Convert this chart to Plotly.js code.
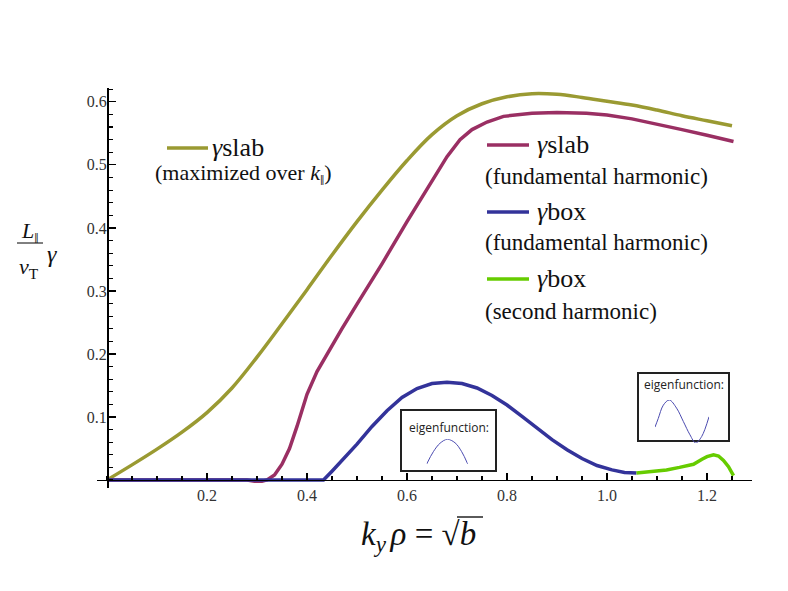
<!DOCTYPE html>
<html>
<head>
<meta charset="utf-8">
<script src="https://cdn.plot.ly/plotly-3.0.1.min.js"></script>
<style>html,body{margin:0;padding:0;background:#fff}</style>
</head>
<body>
<div id="chart" style="width:788px;height:591px"></div>
<script>
// ---- data ----
const slabMaxX = [0, 0.05, 0.1, 0.15, 0.2, 0.25, 0.3, 0.35, 0.4, 0.45, 0.5, 0.55, 0.6, 0.65, 0.7, 0.75, 0.8, 0.85, 0.9, 0.95, 1.0, 1.05, 1.1, 1.15, 1.2, 1.25];
const slabMaxY = [0, 0.024, 0.049, 0.076, 0.107, 0.146, 0.195, 0.248, 0.302, 0.357, 0.41, 0.46, 0.507, 0.548, 0.578, 0.597, 0.608, 0.613, 0.612, 0.607, 0.601, 0.595, 0.587, 0.578, 0.57, 0.562];

const slabFundX = [0, 0.28, 0.295, 0.31, 0.32, 0.335, 0.35, 0.365, 0.38, 0.39, 0.4, 0.42, 0.44, 0.47, 0.5, 0.55, 0.6, 0.625, 0.653, 0.68, 0.706, 0.73, 0.76, 0.793, 0.85, 0.9, 0.959, 1.0, 1.05, 1.093, 1.15, 1.2, 1.253];
const slabFundY = [0, 0, -0.002, -0.002, 0, 0.008, 0.025, 0.05, 0.085, 0.11, 0.136, 0.172, 0.2, 0.24, 0.279, 0.343, 0.41, 0.443, 0.479, 0.513, 0.54, 0.556, 0.568, 0.577, 0.582, 0.583, 0.582, 0.579, 0.573, 0.566, 0.556, 0.547, 0.537];

const boxFundX = [0, 0.433, 0.45, 0.47, 0.5, 0.53, 0.56, 0.59, 0.62, 0.65, 0.68, 0.71, 0.74, 0.77, 0.8, 0.83, 0.86, 0.89, 0.92, 0.95, 0.98, 1.01, 1.035, 1.059];
const boxFundY = [0, 0, 0.014, 0.031, 0.057, 0.085, 0.11, 0.131, 0.145, 0.153, 0.155, 0.153, 0.146, 0.134, 0.119, 0.101, 0.082, 0.064, 0.048, 0.034, 0.023, 0.016, 0.012, 0.011];

const boxSecondX = [1.059, 1.09, 1.119, 1.145, 1.173, 1.19, 1.2, 1.213, 1.223, 1.233, 1.243, 1.253];
const boxSecondY = [0.011, 0.013, 0.016, 0.02, 0.025, 0.033, 0.037, 0.040, 0.038, 0.031, 0.021, 0.007];

// eigenfunction sketches (normalised inset coordinates)
const eig1X = [0, 0.163, 0.325, 0.503, 0.69, 0.853, 1.0];
const eig1Y = [0, 0.5, 0.84, 1.0, 0.86, 0.5, 0];
const eig2X = [0, 0.06, 0.154, 0.265, 0.4, 0.525, 0.648, 0.753, 0.864, 1.0];
const eig2Y = [0.37, 0.57, 0.88, 1.0, 0.81, 0.5, 0.19, 0.0, 0.15, 0.61];

const xTickVals = [0.2, 0.4, 0.6, 0.8, 1.0, 1.2];
const xTickText = ['0.2', '0.4', '0.6', '0.8', '1.0', '1.2'];
const yTickVals = [0.1, 0.2, 0.3, 0.4, 0.5, 0.6];
const yTickText = ['0.1', '0.2', '0.3', '0.4', '0.5', '0.6'];

// ---- styling ----
const cOlive = '#9a9a32', cMag = '#9a2f63', cBlue = '#33339a', cGreen = '#66cc00';
const serif = 'Liberation Serif, serif';
const L = 97, R = 752, T = 88, B = 488;
const px = X => (X - L) / (R - L);
const py = Y => (B - Y) / (B - T);

const lw = 3.5;
const traces = [
  {x: slabMaxX, y: slabMaxY, mode: 'lines', line: {color: cOlive, width: lw, shape: 'spline', smoothing: 1}},
  {x: slabFundX, y: slabFundY, mode: 'lines', line: {color: cMag, width: lw}},
  {x: boxFundX, y: boxFundY, mode: 'lines', line: {color: cBlue, width: lw}},
  {x: boxSecondX, y: boxSecondY, mode: 'lines', line: {color: cGreen, width: lw}},
  {x: eig1X, y: eig1Y, xaxis: 'x2', yaxis: 'y2', mode: 'lines', line: {color: '#4b4bb0', width: 1, shape: 'spline'}},
  {x: eig2X, y: eig2Y, xaxis: 'x3', yaxis: 'y3', mode: 'lines', line: {color: '#4b4bb0', width: 1, shape: 'spline'}}
];

const hidden = {visible: false, range: [0, 1], fixedrange: true};

const layout = {
  width: 788, height: 591,
  margin: {l: L, r: 788 - R, t: T, b: 591 - B, pad: 0},
  paper_bgcolor: '#fff', plot_bgcolor: 'rgba(0,0,0,0)',
  showlegend: false,
  xaxis: {
    range: [-0.02, 1.29], anchor: 'free', position: 0.0127 / 0.6347,
    showline: true, linecolor: '#000', linewidth: 1.5, showgrid: false, zeroline: false,
    ticks: 'inside', ticklen: 7, tickwidth: 1.2, tickcolor: '#000',
    tickmode: 'array', tickvals: xTickVals, ticktext: xTickText,
    tickfont: {family: serif, size: 16, color: '#333'},
    minor: {tickmode: 'linear', tick0: 0, dtick: 0.05, ticks: 'inside', ticklen: 4, tickwidth: 1.2, tickcolor: '#000', showgrid: false}
  },
  yaxis: {
    range: [-0.0127, 0.622], anchor: 'free', position: 10 / 655,
    showline: true, linecolor: '#000', linewidth: 1.5, showgrid: false, zeroline: false,
    ticks: 'inside', ticklen: 7, tickwidth: 1.2, tickcolor: '#000',
    tickmode: 'array', tickvals: yTickVals, ticktext: yTickText, ticklabelstandoff: -3,
    tickfont: {family: serif, size: 16, color: '#333'},
    minor: {tickmode: 'linear', tick0: 0, dtick: 0.02, ticks: 'inside', ticklen: 4, tickwidth: 1.2, tickcolor: '#000', showgrid: false}
  },
  xaxis2: Object.assign({domain: [px(426.7), px(467.7)], anchor: 'y2'}, hidden),
  yaxis2: Object.assign({domain: [py(464), py(439.3)], anchor: 'x2'}, hidden),
  xaxis3: Object.assign({domain: [px(655), px(709)], anchor: 'y3'}, hidden),
  yaxis3: Object.assign({domain: [py(443), py(400)], anchor: 'x3'}, hidden),
  shapes: [
    {type: 'rect', xref: 'paper', yref: 'paper', x0: px(401), x1: px(496), y0: py(471), y1: py(410), line: {color: '#222', width: 2}, fillcolor: '#fff', layer: 'below'},
    {type: 'rect', xref: 'paper', yref: 'paper', x0: px(638), x1: px(729), y0: py(441), y1: py(373), line: {color: '#222', width: 2}, fillcolor: '#fff', layer: 'below'},
    {type: 'line', xref: 'paper', yref: 'paper', x0: px(167), x1: px(208), y0: py(148), y1: py(148), line: {color: cOlive, width: lw}},
    {type: 'line', xref: 'paper', yref: 'paper', x0: px(487), x1: px(529), y0: py(145), y1: py(145), line: {color: cMag, width: lw}},
    {type: 'line', xref: 'paper', yref: 'paper', x0: px(487), x1: px(529), y0: py(212), y1: py(212), line: {color: cBlue, width: lw}},
    {type: 'line', xref: 'paper', yref: 'paper', x0: px(487), x1: px(529), y0: py(279), y1: py(279), line: {color: cGreen, width: lw}},
    {type: 'line', xref: 'paper', yref: 'paper', x0: px(17), x1: px(43), y0: py(243), y1: py(243), line: {color: '#000', width: 1}},
    {type: 'line', xref: 'paper', yref: 'paper', x0: px(457), x1: px(483), y0: py(517), y1: py(517), line: {color: '#000', width: 1.3}}
  ],
  annotations: []
};

function note(text, X, Y, size, anchor, family, color) {
  layout.annotations.push({
    text: text, xref: 'paper', yref: 'paper', x: px(X), y: py(Y),
    xanchor: anchor || 'left', yanchor: 'middle', showarrow: false,
    font: {family: family || serif, size: size, color: color || '#111'}
  });
}

// legend
note('<i>γ</i>slab', 210, 147, 26);
note('(maximized over <i>k</i><sub>‖</sub>)', 153, 174, 22);
note('<i>γ</i>slab', 535, 144, 26);
note('(fundamental harmonic)', 483, 176, 23);
note('<i>γ</i>box', 535, 211, 26);
note('(fundamental harmonic)', 483, 243, 23);
note('<i>γ</i>box', 535, 278, 26);
note('(second harmonic)', 483, 311, 23);

// insets
note('eigenfunction:', 449.5, 427, 12, 'center', 'Open Sans', '#222');
note('eigenfunction:', 684, 384, 12, 'center', 'Open Sans', '#222');

// y title
note('<i>L</i><sub>‖</sub>', 30, 232, 22, 'center');
note('<i>v</i><sub>T</sub>', 29, 268, 22, 'center');
note('<i>γ</i>', 52, 254, 24, 'center');

// x title
note('<i>k</i><sub><i>y</i>\u2009</sub><i>ρ</i> = √<i>b</i>', 418, 536, 33, 'center');

Plotly.newPlot('chart', traces, layout, {displayModeBar: false, staticPlot: true});
</script>
</body>
</html>
